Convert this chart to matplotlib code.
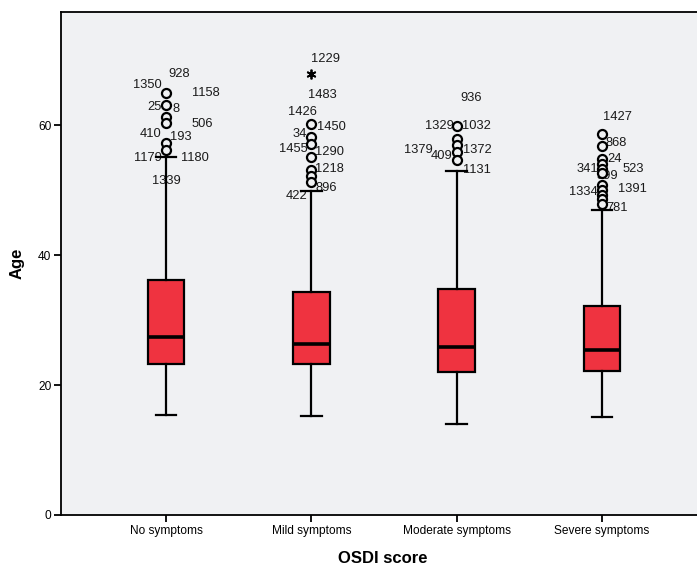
import matplotlib.pyplot as plt

plt.rcParams['font.family'] = ['Liberation Sans', 'DejaVu Sans']

groups = ["No symptoms", "Mild symptoms", "Moderate symptoms", "Severe symptoms"]
q1 = [23.2, 23.2, 22.0, 22.2]
med = [27.4, 26.3, 25.8, 25.4]
q3 = [36.2, 34.3, 34.8, 32.2]
whis_lo = [15.4, 15.3, 14.0, 15.1]
whis_hi = [55.1, 49.9, 53.0, 47.0]
outliers = [
    [65.0, 63.1, 61.2, 60.3, 57.2, 56.2],
    [60.1, 58.2, 57.1, 55.1, 53.1, 52.2, 51.2],
    [59.8, 57.9, 56.9, 55.9, 54.6],
    [58.7, 56.8, 54.8, 54.0, 53.3, 52.6, 50.8, 50.0, 49.3, 48.6, 47.8],
]
extremes = [[], [67.9], [], []]

# case ids next to the outliers: (group, id, age at label, x shift px, align)
case_labels = [
    (0, "1350", 66.2, -4, 'right'), (0, "928", 67.8, 2, 'left'),
    (0, "1158", 65.0, 26, 'left'), (0, "25", 62.8, -4, 'right'),
    (0, "8", 62.4, 6, 'left'), (0, "506", 60.1, 25, 'left'),
    (0, "410", 58.6, -5, 'right'), (0, "193", 58.2, 4, 'left'),
    (0, "1179", 55.0, -4, 'right'), (0, "1180", 55.0, 15, 'left'),
    (0, "1339", 51.4, 0, 'center'),
    (1, "1229", 70.2, 0, 'left'), (1, "1483", 64.6, -3, 'left'),
    (1, "1426", 62.0, -23, 'left'), (1, "1450", 59.7, 6, 'left'),
    (1, "34", 58.7, -4, 'right'), (1, "1455", 56.3, -4, 'right'),
    (1, "1290", 55.8, 4, 'left'), (1, "1218", 53.2, 4, 'left'),
    (1, "896", 50.3, 4, 'left'), (1, "422", 49.1, -4, 'right'),
    (2, "936", 64.1, 4, 'left'), (2, "1329", 59.8, -3, 'right'),
    (2, "1032", 59.8, 5, 'left'), (2, "1379", 56.2, -24, 'right'),
    (2, "409", 55.3, -4, 'right'), (2, "1372", 56.1, 6, 'left'),
    (2, "1131", 53.1, 6, 'left'),
    (3, "1427", 61.2, 1, 'left'), (3, "868", 57.2, 4, 'left'),
    (3, "24", 54.8, 5, 'left'), (3, "341", 53.2, -4, 'right'),
    (3, "523", 53.2, 21, 'left'), (3, "399", 52.2, -5, 'left'),
    (3, "1334", 49.7, -4, 'right'), (3, "1391", 50.1, 16, 'left'),
    (3, "781", 47.3, 5, 'left'),
]

bg = '#f0f1f3'
fig = plt.figure(figsize=(6.97, 5.65), dpi=100)
ax = fig.add_axes([0.0875, 0.0885, 0.924, 0.8903])
ax.set_facecolor(bg)

stats = []
for i, g in enumerate(groups):
    stats.append(dict(label=g, q1=q1[i], med=med[i], q3=q3[i],
                      whislo=whis_lo[i], whishi=whis_hi[i], fliers=outliers[i]))

pos = list(range(1, len(groups) + 1))
ax.bxp(stats, positions=pos, widths=0.25, capwidths=0.14, patch_artist=True,
       boxprops=dict(facecolor='#ef3340', edgecolor='black', linewidth=1.6),
       medianprops=dict(color='black', linewidth=2.6),
       whiskerprops=dict(color='black', linewidth=1.6),
       capprops=dict(color='black', linewidth=1.6),
       flierprops=dict(marker='o', markerfacecolor=bg, markeredgecolor='black',
                       markersize=6.5, markeredgewidth=1.6, zorder=4))

for i, ex in enumerate(extremes):
    if ex:
        ax.plot([pos[i]] * len(ex), ex, linestyle='none', marker=(6, 2, 0),
                color='black', markersize=7, markeredgewidth=1.3, zorder=4)

for gi, txt, y, dx, ha in case_labels:
    ax.annotate(txt, (pos[gi], y), xytext=(dx, 0), textcoords='offset pixels',
                ha=ha, va='center', fontsize=9.3, color='#1a1a1a', zorder=1)

ax.set_xlim(0.276, 4.71)
ax.set_ylim(0, 77.4)
ax.set_yticks([0, 20, 40, 60])
ax.set_xticks(pos)
ax.set_xticklabels(groups)
ax.spines['right'].set_visible(False)
for s in ['left', 'bottom', 'top']:
    ax.spines[s].set_linewidth(1.3)
ax.tick_params(direction='out', length=5, width=1.3, labelsize=8.6, pad=2)
ax.set_xlabel('OSDI score', fontsize=12, fontweight='bold', labelpad=10)
ax.set_ylabel('Age', fontsize=12, fontweight='bold', labelpad=10)

plt.savefig('out.png', dpi=100)
